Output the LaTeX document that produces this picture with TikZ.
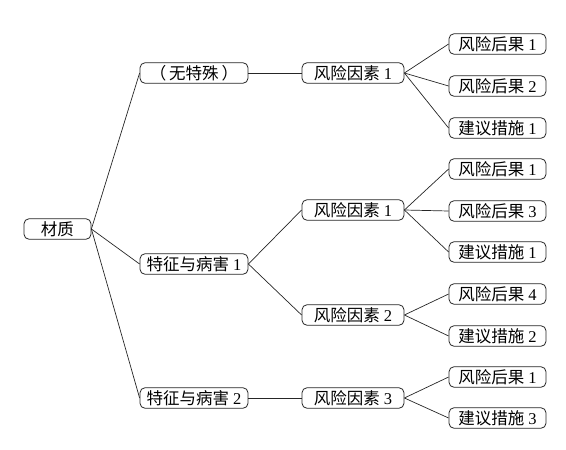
\documentclass[tikz,border=0pt]{standalone}
\usepackage{fontspec}
\usepackage{tikz}
\usetikzlibrary{positioning}
\setmainfont{Liberation Serif}
\newfontfamily\cjk{Noto Sans CJK SC}
\newcommand{\zh}[1]{{\cjk #1}}
\definecolor{cLine}{HTML}{262626}
\tikzset{
  box/.style  ={rectangle, rounded corners=5pt, draw=cLine, line width=0.8pt, fill=white,
                align=center, font=\fontsize{16.5}{18}\selectfont, inner sep=1pt,
                minimum height=20.5pt},
  root/.style ={box, minimum width=67pt},
  lvA/.style  ={box, minimum width=108pt},
  lvB/.style  ={box, minimum width=102pt},
  lvC/.style  ={box, minimum width=97pt},
  ln/.style   ={draw=cLine, line width=0.7pt},
}
\begin{document}
\begin{tikzpicture}[x=1pt,y=-1pt]
  \useasboundingbox (0,0) rectangle (566,450);
  % root and first level
  \node[root] (mat) at (57.5,229) {\zh{材质}};
  \node[lvA] (none) at (194,73) {\zh{（\hspace{3pt}无特殊\hspace{3pt}）}};
  \node[lvA] (def1) at (194,264) {\zh{特征与病害}~1};
  \node[lvA] (def2) at (194,398) {\zh{特征与病害}~2};
  % risk factors
  \node[lvB] (rfa) at (353,73) {\zh{风险因素}~1};
  \node[lvB] (rfb) at (353,210) {\zh{风险因素}~1};
  \node[lvB] (rfc) at (353,315) {\zh{风险因素}~2};
  \node[lvB] (rfd) at (353,398) {\zh{风险因素}~3};
  % consequences and measures
  \node[lvC] (ca1) at (497.5,44) {\zh{风险后果}~1};
  \node[lvC] (ca2) at (497.5,86) {\zh{风险后果}~2};
  \node[lvC] (ma1) at (497.5,128) {\zh{建议措施}~1};
  \node[lvC] (cb1) at (497.5,169) {\zh{风险后果}~1};
  \node[lvC] (cb3) at (497.5,211) {\zh{风险后果}~3};
  \node[lvC] (mb1) at (497.5,252) {\zh{建议措施}~1};
  \node[lvC] (cc4) at (497.5,294) {\zh{风险后果}~4};
  \node[lvC] (mc2) at (497.5,336) {\zh{建议措施}~2};
  \node[lvC] (cd1) at (497.5,377) {\zh{风险后果}~1};
  \node[lvC] (md3) at (497.5,418) {\zh{建议措施}~3};
  \foreach \a/\b in {mat/none,mat/def1,mat/def2,none/rfa,def1/rfb,def1/rfc,def2/rfd,
    rfa/ca1,rfa/ca2,rfa/ma1,rfb/cb1,rfb/cb3,rfb/mb1,rfc/cc4,rfc/mc2,rfd/cd1,rfd/md3}
    \draw[ln] (\a.east) -- (\b.west);
\end{tikzpicture}
\end{document}
